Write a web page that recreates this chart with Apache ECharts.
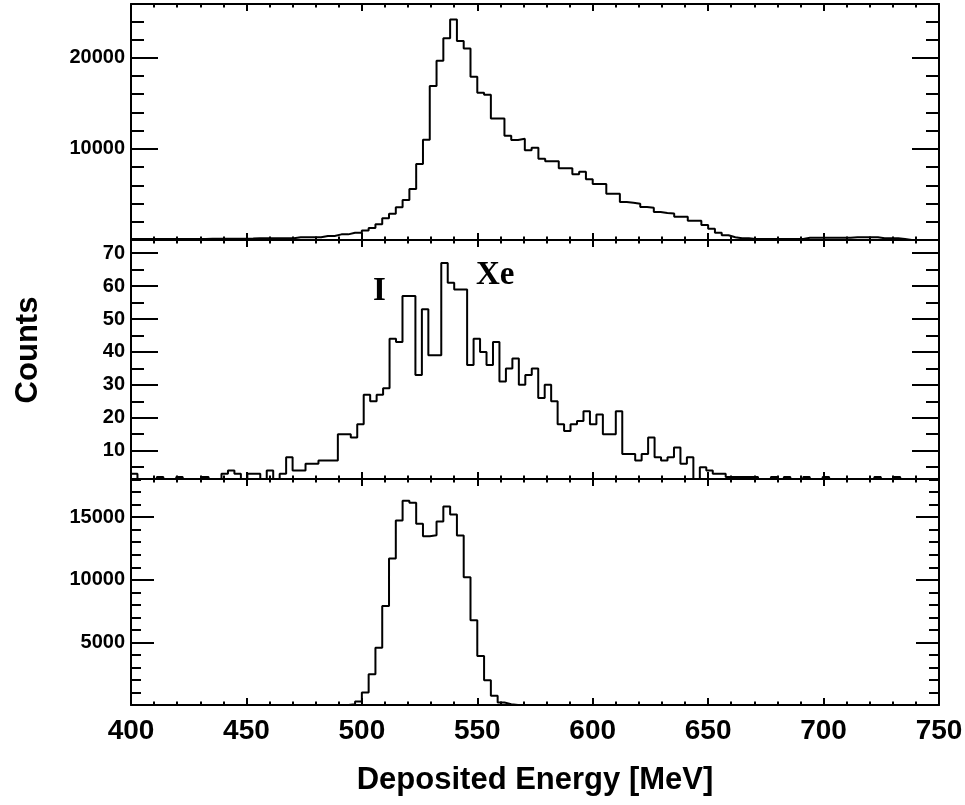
<!DOCTYPE html>
<html>
<head>
<meta charset="utf-8">
<script src="https://cdn.jsdelivr.net/npm/echarts@6/dist/echarts.min.js"></script>
<style>html,body{margin:0;padding:0;background:#fff}#c{width:965px;height:805px}</style>
</head>
<body>
<div id="c"></div>
<script>
// ---------------- data ----------------
const energyMin = 400;
const energyMax = 750;
const xTickStep = 50;
const topBinCount = 119;
const midBinCount = 125;
const botBinCount = 119;

// upper panel counts (119 bins, 400-750 MeV)
const topCounts = [
  110,110,110,110,110,110,110,120,110,120,
  120,130,130,140,140,150,150,160,190,190,
  190,190,200,190,300,300,300,300,440,440,
  620,620,800,800,1050,1320,1720,2380,2890,3590,
  4390,5590,8340,11000,16890,19670,22130,24210,21830,21030,
  17910,16160,15940,13330,13330,11440,10970,11110,9840,10130,
  8920,8630,8630,7870,7870,7210,7490,6660,6140,6140,
  5080,5080,4170,4090,3990,3620,3550,3070,2960,2920,
  2560,2540,2120,2100,1650,1240,800,515,300,190,
  190,110,110,110,110,110,110,110,110,250,
  250,250,250,250,250,250,300,300,300,300,
  190,190,190,110,0,0,0,0,0
];

// middle panel counts (125 bins, 400-750 MeV)
const midCounts = [
  3,1,1,1,2,1,1,2,1,1,
  1,2,1,1,3,4,3,1,3,3,
  1,4,1,3,8,4,4,6,6,7,
  7,7,15,15,14,18,27,25,27,29,
  44,43,57,57,33,53,39,39,67,61,
  59,59,36,44,40,36,43,31,35,38,
  30,33,35,26,30,25,18,16,18,19,
  22,18,21,15,15,22,9,9,7,9,
  14,8,7,8,11,6,8,1,5,4,
  3,3,2,2,2,2,2,1,1,2,
  1,2,1,1,2,1,1,2,1,1,
  1,1,1,1,1,2,1,1,2,1,
  1,1,1,1,1
];

// lower panel counts (119 bins, 400-750 MeV)
const botCounts = [
  0,0,0,0,0,0,0,0,0,0,
  0,0,0,0,0,0,0,0,0,0,
  0,0,0,0,0,0,0,0,0,0,
  0,0,60,270,990,2450,4580,7900,11700,14730,
  16320,16160,14470,13480,13560,14650,15850,15210,13530,10210,
  6760,3910,1970,730,200,70,0,0,0,0,
  0,0,0,0,0,0,0,0,0,0,
  0,0,0,0,0,0,0,0,0,0,
  0,0,0,0,0,0,0,0,0,0,
  0,0,0,0,0,0,0,0,0,0,
  0,0,0,0,0,0,0,0,0,0,
  0,0,0,0,0,0,0,0,0
];

const xTitle = 'Deposited Energy [MeV]';
const yTitle = 'Counts';
const peakLabels = ['I', 'Xe'];

// ---------------- helpers ----------------
function histPoints(counts, nBins) {
  const w = (energyMax - energyMin) / nBins;
  const pts = counts.map((c, i) => [energyMin + i * w, c]);
  pts.push([energyMax, counts[counts.length - 1]]);
  return pts;
}

const FONT = '"Liberation Sans", Arial, Helvetica, sans-serif';
const SERIF = '"Liberation Serif", "Times New Roman", serif';
const black = '#000';

const grids = [
  { left: 131, width: 808, top: 4, height: 236 },
  { left: 131, width: 808, top: 240, height: 239 },
  { left: 131, width: 808, top: 479, height: 226 }
];

const yConf = [
  { min: 0, max: 25900, interval: 10000, minorInterval: 2000, major: 27, minor: 13 },
  { min: 1.4, max: 74, splitNumber: 7, minorSplit: 15, major: 27, minor: 13 },
  { min: 0, max: 18050, interval: 5000, minorInterval: 1000, major: 23, minor: 10 }
];

const xAxes = [];
const yAxes = [];
const series = [];
const counts = [topCounts, midCounts, botCounts];
const bins = [topBinCount, midBinCount, botBinCount];

grids.forEach((g, gi) => {
  ['bottom', 'top'].forEach(pos => {
    const isMainBottom = pos === 'bottom';
    xAxes.push({
      type: 'value', gridIndex: gi, position: pos,
      min: energyMin, max: energyMax, interval: xTickStep,
      axisLine: { show: true, onZero: false, lineStyle: { color: black, width: 2 } },
      axisTick: { show: true, inside: true, length: 7, lineStyle: { color: black, width: 2 } },
      minorTick: { show: true, splitNumber: 5, length: 3.5, lineStyle: { color: black, width: 2 } },
      splitLine: { show: false },
      axisLabel: {
        show: isMainBottom && gi === 2, margin: 12, color: black,
        fontFamily: FONT, fontWeight: 'bold', fontSize: 28,
        formatter: v => String(v)
      },
      name: (isMainBottom && gi === 2) ? xTitle : '',
      nameLocation: 'middle', nameGap: 60,
      nameTextStyle: { fontFamily: FONT, fontWeight: 'bold', fontSize: 31, color: black }
    });
  });
  const yc = yConf[gi];
  ['left', 'right'].forEach(pos => {
    const major = {
      type: 'value', gridIndex: gi, position: pos,
      min: yc.min, max: yc.max,
      axisLine: { show: true, onZero: false, lineStyle: { color: black, width: 2 } },
      axisTick: { show: true, inside: true, length: yc.major, lineStyle: { color: black, width: 2 } },
      splitLine: { show: false },
      axisLabel: {
        show: pos === 'left', margin: 6, color: black,
        fontFamily: FONT, fontWeight: 'bold', fontSize: 20,
        showMinLabel: false, showMaxLabel: false,
        formatter: v => String(v)
      }
    };
    if (yc.interval) major.interval = yc.interval; else major.splitNumber = yc.splitNumber;
    yAxes.push(major);
    const minor = {
      type: 'value', gridIndex: gi, position: pos,
      min: yc.min, max: yc.max,
      axisLine: { show: false },
      axisTick: { show: true, inside: true, length: yc.minor, lineStyle: { color: black, width: 2 } },
      splitLine: { show: false },
      axisLabel: { show: false }
    };
    if (yc.minorInterval) minor.interval = yc.minorInterval; else minor.splitNumber = yc.minorSplit;
    yAxes.push(minor);
  });
  series.push({
    type: 'line', step: 'end', xAxisIndex: gi * 2, yAxisIndex: gi * 4,
    data: histPoints(counts[gi], bins[gi]),
    showSymbol: false, symbol: 'none', clip: true,
    lineStyle: { color: black, width: 2 },
    animation: false, silent: true
  });
});

const chart = echarts.init(document.getElementById('c'), null, { renderer: 'canvas' });
chart.setOption({
  backgroundColor: '#fff',
  animation: false,
  grid: grids.map(g => Object.assign({ containLabel: false, outerBoundsMode: 'none' }, g)),
  xAxis: xAxes,
  yAxis: yAxes,
  series: series,
  graphic: [
    { type: 'text', x: 28, y: 350, rotation: Math.PI / 2,
      style: { text: yTitle, font: 'bold 31px ' + FONT, fill: black, textAlign: 'center', textVerticalAlign: 'middle' } },
    { type: 'text', x: 373, y: 275,
      style: { text: peakLabels[0], font: 'bold 33px ' + SERIF, fill: black, textAlign: 'left', textVerticalAlign: 'top' } },
    { type: 'text', x: 476, y: 259,
      style: { text: peakLabels[1], font: 'bold 33px ' + SERIF, fill: black, textAlign: 'left', textVerticalAlign: 'top' } }
  ]
});
</script>
</body>
</html>
